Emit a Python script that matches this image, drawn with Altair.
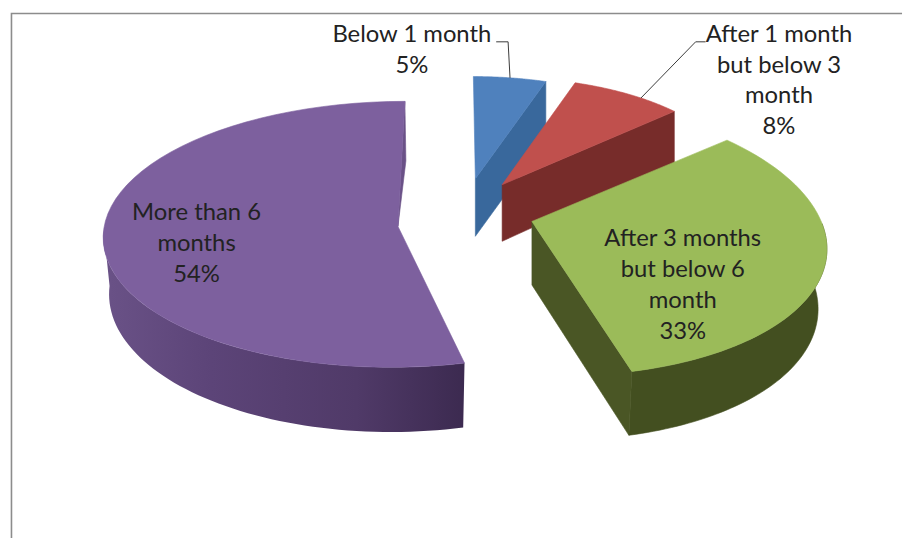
import math
import altair as alt
import pandas as pd

categories = ["Below 1 month", "After 1 month but below 3 month", "After 3 months but below 6 month", "More than 6 months"]
values = [5, 8, 33, 54]
label_lines = [
    ["Below 1 month", "5%"],
    ["After 1 month", "but below 3", "month", "8%"],
    ["After 3 months", "but below 6", "month", "33%"],
    ["More than 6", "months", "54%"],
]

# image-pixel layout of the hand-fitted 3D projection of each slice
W, H, OFF = 898, 529, 8
geom = [
    dict(ax=476, ay=175, A=236, B=103, c=0, k=0.0, s=-2, d0=58, d1=0, sc=1.0),
    dict(ax=503, ay=181, A=238, B=108, c=0, k=0.0, s=0, d0=52, d1=0, sc=1.0),
    dict(ax=533, ay=218, A=296, B=141, c=14.6, k=0.0, s=-28, d0=60, d1=-4.5, sc=0.97),
    dict(ax=398, ay=223, A=297, B=134, c=8, k=0.0, s=7, d0=57, d1=-8.2, sc=0.98),
]
label_pos = [(412, 30), (782, 30), (685, 236), (195, 210)]
top_col = ["#4f81bd", "#c0504d", "#9bbb59", "#7d609e"]
side_col = ["#39689c", "#772c2a", "#434f20", "#6a5187"]

total = sum(values)
bounds = [0]
for v in values:
    bounds.append(bounds[-1] + v / total * 360)


def rim(i, deg):
    g = geom[i]
    t = math.radians(deg)
    u, v = math.sin(t), math.cos(t)
    return (g["ax"] + g["A"] * u / (1 + g["k"] * v) + g["s"] * v, g["ay"] + g["c"] - g["B"] * v)


def low(i, deg):
    g = geom[i]
    x, y = rim(i, deg)
    return (g["ax"] + (x - g["ax"]) * g["sc"], y + g["d0"] + g["d1"] * math.cos(math.radians(deg)))


def degs(a, b, n=60):
    return [a + (b - a) * j / n for j in range(n + 1)]


def poly(pts, fill):
    df = pd.DataFrame({"x": [p[0] - OFF for p in pts], "y": [p[1] - OFF for p in pts], "i": range(len(pts))})
    solid = isinstance(fill, str)
    kw = dict(stroke=fill, strokeWidth=0.6) if solid else dict(strokeWidth=0, strokeOpacity=0)
    return alt.Chart(df).mark_line(interpolate="linear-closed", fill=fill, clip=False, **kw).encode(
        x=alt.X("x:Q", scale=alt.Scale(domain=[0, W]), axis=None),
        y=alt.Y("y:Q", scale=alt.Scale(domain=[H, 0]), axis=None),
        order="i:Q",
    )


def grad(stops):
    return alt.LinearGradient(
        gradient="linear", x1=0, x2=1, y1=0, y2=0,
        stops=[alt.GradientStop(color=c, offset=o) for o, c in stops],
    )


def top(i):
    g = geom[i]
    return [(g["ax"], g["ay"])] + [rim(i, d) for d in degs(bounds[i], bounds[i + 1])]


def outer_wall(i, a, b):
    ds = degs(a, b)
    return [rim(i, d) for d in ds] + [low(i, d) for d in ds[::-1]]


def cut_wall(i, deg, apex_depth):
    g = geom[i]
    return [(g["ax"], g["ay"]), rim(i, deg), low(i, deg), (g["ax"], g["ay"] + apex_depth)]


layers = []

# purple
layers.append(poly(outer_wall(3, bounds[3], 272), grad([(0, "#6a5287"), (0.3, "#5c4478"), (0.7, "#503a68"), (1, "#3c2a50")])))
layers.append(poly([(geom[3]["ax"], geom[3]["ay"]), rim(3, 360), (rim(3, 360)[0] + 1, rim(3, 360)[1] + 60)], side_col[3]))
layers.append(poly(top(3), top_col[3]))

# blue
layers.append(poly(cut_wall(0, bounds[1], 58), side_col[0]))
layers.append(poly(top(0), top_col[0]))

# red
layers.append(poly(cut_wall(1, bounds[2], 57), side_col[1]))
layers.append(poly(top(1), top_col[1]))

# green
layers.append(poly(outer_wall(2, 85, bounds[3]), side_col[2]))
layers.append(poly(cut_wall(2, bounds[3], 64), "#4a5625"))
layers.append(poly(top(2), top_col[2]))

xs = alt.Scale(domain=[0, W])
ys = alt.Scale(domain=[H, 0])

# frame
frame = pd.DataFrame({"x": [0.5, 0.5, W], "y": [H, 0.5, 0.5], "i": [0, 1, 2]})
layers.insert(0, alt.Chart(frame).mark_line(color="#8c8c8c", strokeWidth=1.6, clip=False).encode(
    x=alt.X("x:Q", scale=xs, axis=None), y=alt.Y("y:Q", scale=ys, axis=None), order="i:Q"))

# leader lines
lead1 = [(497, 37), (509, 37), rim(0, 9)]
lead2 = [(708, 37), (698, 37), rim(1, 36)]
for pts in (lead1, lead2):
    df = pd.DataFrame({"x": [p[0] - OFF for p in pts], "y": [p[1] - OFF for p in pts], "i": range(len(pts))})
    layers.append(alt.Chart(df).mark_line(color="#3a3a3a", strokeWidth=1).encode(
        x=alt.X("x:Q", scale=xs, axis=None), y=alt.Y("y:Q", scale=ys, axis=None), order="i:Q"))

# labels
rows = []
for (px, py), lines in zip(label_pos, label_lines):
    for j, t in enumerate(lines):
        rows.append({"x": px - OFF, "y": py + j * 31 - OFF, "t": t})
layers.append(alt.Chart(pd.DataFrame(rows)).mark_text(
    font="Lato", fontSize=24, color="#222222", align="center", baseline="middle").encode(
    x=alt.X("x:Q", scale=xs, axis=None), y=alt.Y("y:Q", scale=ys, axis=None), text="t:N"))

chart = alt.layer(*layers).properties(
    width=W, height=H, padding=0, background="white"
).configure_view(stroke=None)
chart.save("out.html", embed_options={"renderer": "svg", "actions": False})
